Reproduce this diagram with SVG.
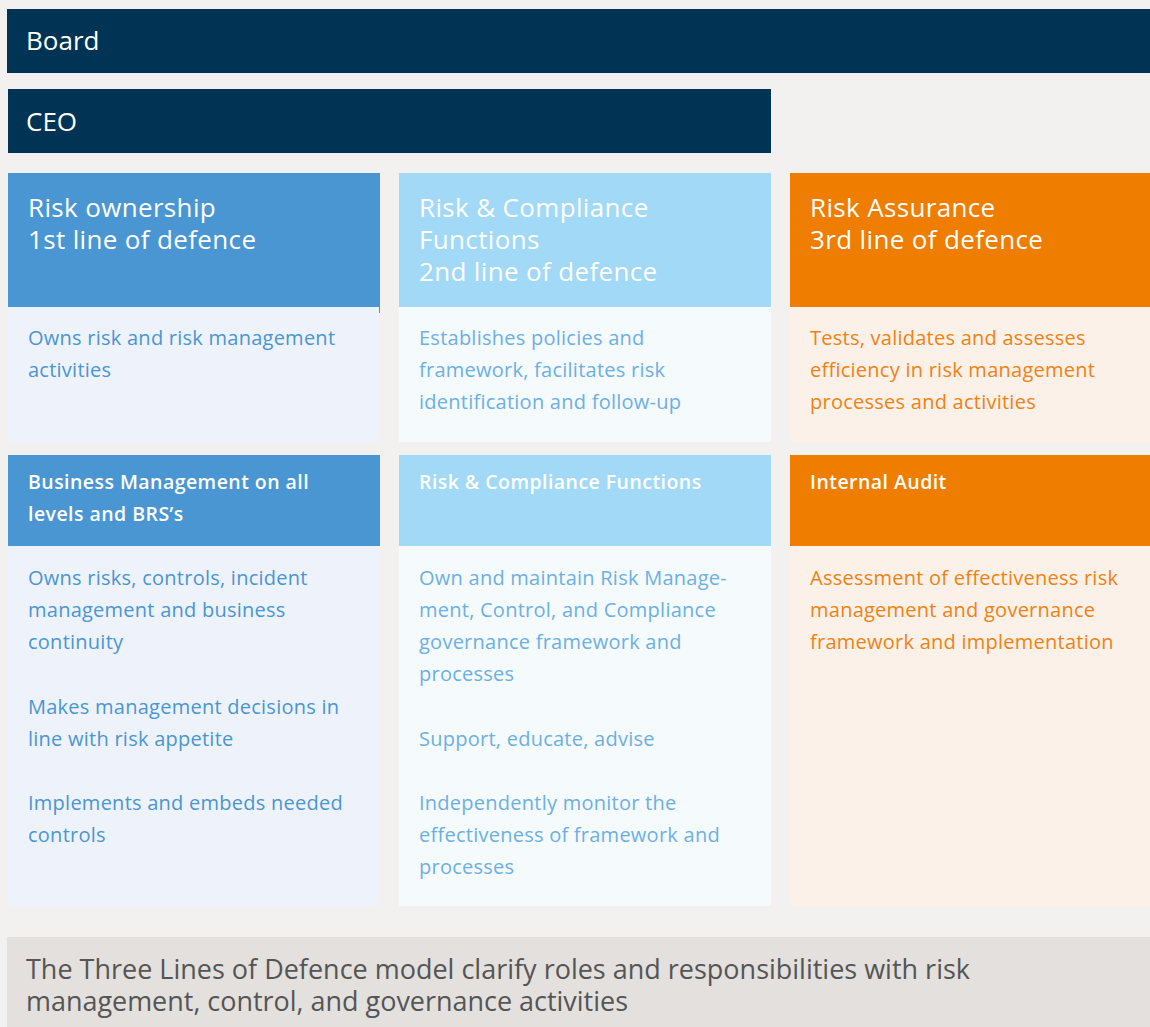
<svg xmlns="http://www.w3.org/2000/svg" width="1150" height="1027" viewBox="0 0 1150 1027">
  <style>
    text { font-family: "Open Sans", "Noto Sans", "DejaVu Sans", sans-serif; }
    .bar { fill: #003354; }
    .bar-t { fill: #ffffff; font-size: 26px; }
    .head-t { fill: #ffffff; font-size: 26px; letter-spacing: 0.35px; }
    .sub-t { fill: #ffffff; font-size: 19.5px; font-weight: 600; letter-spacing: 0.45px; }
    .body-t { font-size: 20px; letter-spacing: 0.25px; }
    .h1 { fill: #4a96d2; }
    .b1 { fill: #eef3fb; }
    .t1 { fill: #4a96d2; }
    .h2 { fill: #a2d9f6; }
    .b2 { fill: #f5fafd; }
    .t2 { fill: #6cb0e3; }
    .h3 { fill: #ee7d00; }
    .b3 { fill: #fcf1e8; }
    .t3 { fill: #ef8214; }
    .note { fill: #e3e0de; }
    .note-t { fill: #555555; font-size: 27px; }
  </style>

  <rect x="0" y="0" width="1150" height="1027" fill="#f2f1ef"/>

  <g id="board">
    <rect class="bar" x="7" y="9" width="1143" height="64"/>
    <text class="bar-t" x="26" y="50">Board</text>
  </g>

  <g id="ceo">
    <rect class="bar" x="8" y="89" width="763" height="64"/>
    <text class="bar-t" x="26" y="131">CEO</text>
  </g>

  <!-- First line of defence -->
  <g id="line1">
    <rect class="h1" x="8" y="173" width="372" height="134"/>
    <rect class="b1" x="7" y="307" width="372" height="135"/>
    <rect class="h1" x="379" y="306" width="1" height="7"/>
    <text class="head-t" x="28" y="217">Risk ownership</text>
    <text class="head-t" x="28" y="249">1st line of defence</text>
    <text class="body-t t1" x="28" y="345">Owns risk and risk management</text>
    <text class="body-t t1" x="28" y="377">activities</text>
  </g>

  <!-- Second line of defence -->
  <g id="line2">
    <rect class="h2" x="399" y="173" width="372" height="134"/>
    <rect class="b2" x="399" y="307" width="372" height="135"/>
    <text class="head-t" x="419" y="217">Risk &amp; Compliance</text>
    <text class="head-t" x="419" y="249">Functions</text>
    <text class="head-t" x="419" y="281">2nd line of defence</text>
    <text class="body-t t2" x="419" y="345">Establishes policies and</text>
    <text class="body-t t2" x="419" y="377">framework, facilitates risk</text>
    <text class="body-t t2" x="419" y="409">identification and follow-up</text>
  </g>

  <!-- Third line of defence -->
  <g id="line3">
    <rect class="h3" x="790" y="173" width="360" height="134"/>
    <rect class="b3" x="790" y="307" width="360" height="135"/>
    <text class="head-t" x="810" y="217">Risk Assurance</text>
    <text class="head-t" x="810" y="249">3rd line of defence</text>
    <text class="body-t t3" x="810" y="345">Tests, validates and assesses</text>
    <text class="body-t t3" x="810" y="377">efficiency in risk management</text>
    <text class="body-t t3" x="810" y="409">processes and activities</text>
  </g>

  <g id="business-management">
    <rect class="h1" x="8" y="455" width="372" height="91"/>
    <rect class="b1" x="7" y="546" width="372" height="360"/>
    <text class="sub-t" x="28" y="489">Business Management on all</text>
    <text class="sub-t" x="28" y="521">levels and BRS’s</text>
    <text class="body-t t1" x="28" y="585">Owns risks, controls, incident</text>
    <text class="body-t t1" x="28" y="617">management and business</text>
    <text class="body-t t1" x="28" y="649">continuity</text>
    <text class="body-t t1" x="28" y="714">Makes management decisions in</text>
    <text class="body-t t1" x="28" y="746">line with risk appetite</text>
    <text class="body-t t1" x="28" y="810">Implements and embeds needed</text>
    <text class="body-t t1" x="28" y="842">controls</text>
  </g>

  <g id="risk-compliance-functions">
    <rect class="h2" x="399" y="455" width="372" height="91"/>
    <rect class="b2" x="399" y="546" width="372" height="360"/>
    <text class="sub-t" x="419" y="489">Risk &amp; Compliance Functions</text>
    <text class="body-t t2" x="419" y="585">Own and maintain Risk Manage-</text>
    <text class="body-t t2" x="419" y="617">ment, Control, and Compliance</text>
    <text class="body-t t2" x="419" y="649">governance framework and</text>
    <text class="body-t t2" x="419" y="681">processes</text>
    <text class="body-t t2" x="419" y="746">Support, educate, advise</text>
    <text class="body-t t2" x="419" y="810">Independently monitor the</text>
    <text class="body-t t2" x="419" y="842">effectiveness of framework and</text>
    <text class="body-t t2" x="419" y="874">processes</text>
  </g>

  <g id="internal-audit">
    <rect class="h3" x="790" y="455" width="360" height="91"/>
    <rect class="b3" x="790" y="546" width="360" height="360"/>
    <text class="sub-t" x="810" y="489">Internal Audit</text>
    <text class="body-t t3" x="810" y="585">Assessment of effectiveness risk</text>
    <text class="body-t t3" x="810" y="617">management and governance</text>
    <text class="body-t t3" x="810" y="649">framework and implementation</text>
  </g>

  <g id="summary">
    <rect class="note" x="7" y="937" width="1143" height="90"/>
    <text class="note-t" x="26" y="979" textLength="944" lengthAdjust="spacingAndGlyphs">The Three Lines of Defence model clarify roles and responsibilities with risk</text>
    <text class="note-t" x="26" y="1011" textLength="602" lengthAdjust="spacingAndGlyphs">management, control, and governance activities</text>
  </g>

  <!-- no connectors in this chart -->
  <g id="connectors"/>
</svg>
